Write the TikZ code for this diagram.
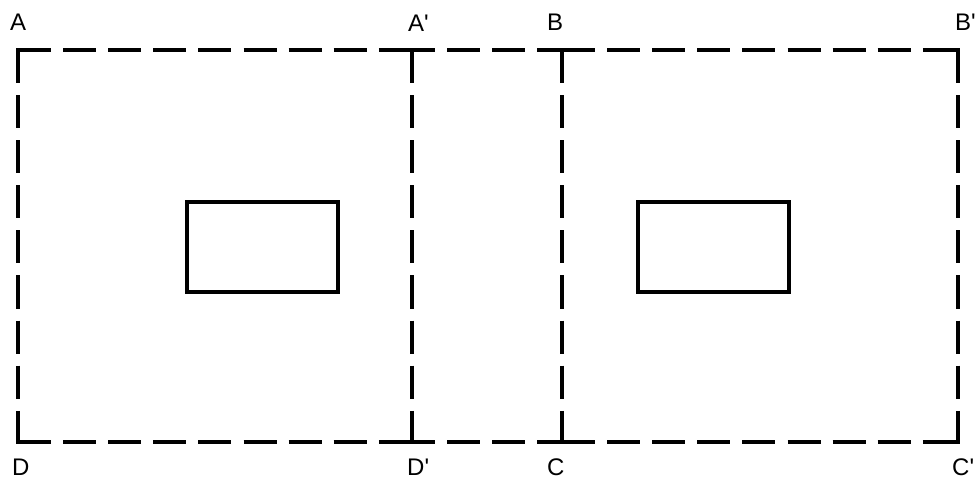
\documentclass[tikz,border=0pt]{standalone}
\usepackage{fontspec}
\setmainfont{Liberation Sans}
\begin{document}
\begin{tikzpicture}[x=1pt,y=-1pt,
  dline/.style={line width=3.2pt,dash pattern=on 33pt off 12.1pt},
  dmid/.style={line width=3.2pt,dash pattern=on 33pt off 12.1pt,dash phase=10pt},
  solidbox/.style={line width=3.4pt,line join=miter},
  lbl/.style={inner sep=0pt,anchor=base west,font=\fontsize{24}{24}\selectfont}]
\useasboundingbox (0,0) rectangle (975,481);
\coordinate (A) at (18,50);
\coordinate (Ap) at (412,50);
\coordinate (B) at (562,50);
\coordinate (Bp) at (958,50);
\coordinate (D) at (18,442);
\coordinate (Dp) at (412,442);
\coordinate (C) at (562,442);
\coordinate (Cp) at (958,442);
% top
\draw[dline] (A) -- (Ap);
\draw[dmid] (Ap) -- (B);
\draw[dline] (B) -- (Bp);
% bottom
\draw[dline] (D) -- (Dp);
\draw[dmid] (Dp) -- (C);
\draw[dline] (C) -- (Cp);
% verticals
\draw[dline] (A) -- (D);
\draw[dline] (Ap) -- (Dp);
\draw[dline] (B) -- (C);
\draw[dline] (Bp) -- (Cp);
% corner joins
\draw[line width=3.2pt] (18,67) |- (35,50);
\draw[line width=3.2pt] (958,67) |- (941,50);
\draw[line width=3.2pt] (18,425) |- (35,442);
\draw[line width=3.2pt] (958,425) |- (941,442);
% inner boxes
\node[draw,solidbox,minimum width=151pt,minimum height=90pt,inner sep=0pt] (r1) at (262.5,247) {};
\node[draw,solidbox,minimum width=151pt,minimum height=90pt,inner sep=0pt] (r2) at (713.5,247) {};
% labels
\node[lbl] (lA) at (10,31) {A};
\node[lbl] (lAp) at (408,32) {A\textquotesingle};
\node[lbl] (lB) at (547,31) {B};
\node[lbl] (lBp) at (955,31) {B\textquotesingle};
\node[lbl] (lD) at (12,475) {D};
\node[lbl] (lDp) at (407,475) {D\textquotesingle};
\node[lbl] (lC) at (547,475) {C};
\node[lbl] (lCp) at (952,475) {C\textquotesingle};
\end{tikzpicture}
\end{document}
